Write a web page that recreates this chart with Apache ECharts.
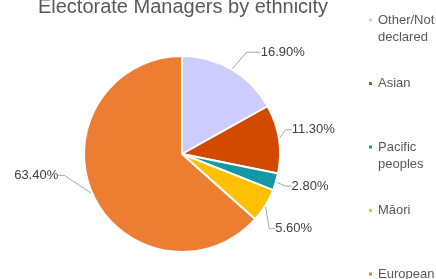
<!DOCTYPE html>
<html>
<head>
<meta charset="utf-8">
<script src="https://cdn.jsdelivr.net/npm/echarts@6/dist/echarts.min.js"></script>
<style>
  html, body { margin: 0; padding: 0; background: #fff; }
  #main { width: 436px; height: 279px; }
</style>
</head>
<body>
<div id="main"></div>
<script>
// data
const categories = ['Other/Not\ndeclared', 'Asian', 'Pacific\npeoples', 'Māori', 'European'];
const shares = [16.9, 11.3, 2.8, 5.6, 63.4];
const colors = ['#CCCCFF', '#D24A00', '#1597A5', '#FFC000', '#ED7D31'];

// label nudges, Excel-like placement
const lineLen = [20, 8, 8, 8, 8];
const lineLen2 = [14, 6, 6, 6, 6];
const nudge = [[0, 0], [-6, -8], [-3, 2], [-8, 19], [-16, -22]];

const chart = echarts.init(document.getElementById('main'));

const font = 'Liberation Sans, Arial';

const option = {
  animation: false,
  title: {
    text: 'Electorate Managers by ethnicity',
    left: 178,
    textAlign: 'center',
    top: -8,
    textStyle: { fontFamily: font, fontSize: 20, fontWeight: 'normal', color: '#595959' }
  },
  legend: {
    orient: 'vertical',
    left: 367,
    top: -5.5,
    height: 360,
    padding: 0,
    itemWidth: 5,
    itemHeight: 5,
    itemGap: 12.5,
    icon: 'rect',
    // pad every entry to three lines so the marker sits on the first text line
    formatter: n => n.indexOf('\n') >= 0 ? '\n' + n : '\n' + n + '\n',
    textStyle: { fontFamily: font, fontSize: 13, color: '#595959', lineHeight: 17 },
    data: categories
  },
  series: [
    {
      type: 'pie',
      center: [182, 154],
      radius: 98,
      startAngle: 90,
      clockwise: true,
      itemStyle: { borderColor: '#fff', borderWidth: 2 },
      label: {
        formatter: p => p.value.toFixed(2) + '%',
        fontFamily: font,
        fontSize: 13,
        color: '#404040'
      },
      labelLine: {
        lineStyle: { color: '#A6A6A6', width: 1 }
      },
      labelLayout: p => ({
        x: p.labelRect.x + nudge[p.dataIndex][0],
        y: p.labelRect.y + nudge[p.dataIndex][1],
        align: 'left',
        verticalAlign: 'top'
      }),
      data: categories.map((c, i) => ({
        name: c,
        value: shares[i],
        itemStyle: { color: colors[i] },
        labelLine: { length: lineLen[i], length2: lineLen2[i] }
      }))
    }
  ]
};

chart.setOption(option);
</script>
</body>
</html>
